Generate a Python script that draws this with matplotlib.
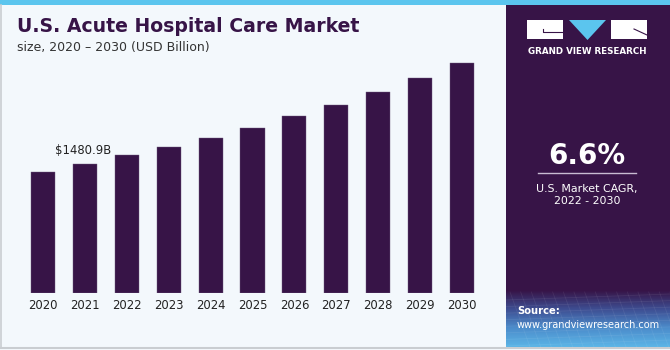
import numpy as np
import matplotlib
matplotlib.use("Agg")
import matplotlib.pyplot as plt
from matplotlib.patches import Rectangle, Polygon

years = ["2020", "2021", "2022", "2023", "2024", "2025",
         "2026", "2027", "2028", "2029", "2030"]
market_size = [1389, 1480.9, 1585, 1683, 1787, 1902, 2033, 2163, 2316, 2471, 2650]
label_year = "2021"
cagr_text = "6.6%"
cagr_caption = "U.S. Market CAGR,\n2022 - 2030"

purple = "#371447"
bg = "#F3F8FC"

W, H = 670, 350
fig = plt.figure(figsize=(W / 100, H / 100), dpi=100)
fig.patch.set_facecolor(bg)

# overlay axes in pixel coordinates for the decoration
deco = fig.add_axes([0, 0, 1, 1])
deco.set_xlim(0, W)
deco.set_ylim(H, 0)
deco.axis("off")
deco.set_zorder(0)

# top strip and frame
deco.add_patch(Rectangle((0, 0), W, 5, color="#5BC5EE", lw=0))
deco.plot([1, 1], [5, H - 2], color="#C9CDD1", lw=1.2)
deco.plot([0, W], [H - 2, H - 2], color="#C9CDD1", lw=1.5)

# right side panel
deco.add_patch(Rectangle((506, 5), W - 506, 287, color=purple, lw=0))
grad = np.linspace(0, 1, 60).reshape(-1, 1)
cmap = matplotlib.colors.LinearSegmentedColormap.from_list(
    "src", [purple, "#3E4E92", "#4C8CCB", "#5BB4E6"])
deco.imshow(grad, extent=(506, W, 347, 290), aspect="auto", cmap=cmap,
            zorder=1)
# faint mesh lines across the source box
for gx in np.linspace(510, W, 16):
    deco.plot([gx, gx + 20], [292, 347], color="white", alpha=0.07, lw=0.6, zorder=2)
for gy in np.linspace(300, 346, 8):
    deco.plot([506, W], [gy, gy - 6], color="white", alpha=0.07, lw=0.6, zorder=2)

# logo
deco.add_patch(Rectangle((527, 20), 36, 19, color="white", lw=0, zorder=3))
deco.plot([543, 543, 563], [29, 32, 32], color=purple, lw=0.8, zorder=4)
deco.add_patch(Polygon([(569, 20), (606, 20), (587.5, 40)], closed=True,
                       color="#5BC5EE", lw=0, zorder=3))
deco.add_patch(Rectangle((611, 20), 36, 19, color="white", lw=0, zorder=3))
deco.plot([634, 647], [29, 35], color=purple, lw=0.8, zorder=4)
deco.text(587, 51, "GRAND VIEW RESEARCH", color="white", fontsize=6.3,
          fontweight="bold", ha="center", va="center", zorder=4)

# CAGR block
deco.text(587, 156, cagr_text, color="white", fontsize=20, fontweight="bold",
          ha="center", va="center", zorder=4)
deco.plot([538, 636], [173, 173], color="#C8BCD2", lw=1, zorder=4)
deco.text(587, 195, cagr_caption, color="white", fontsize=7.9,
          ha="center", va="center", linespacing=1.35, zorder=4)

deco.text(517, 311, "Source:", color="white", fontsize=7.2, fontweight="bold",
          ha="left", va="center", zorder=4)
deco.text(517, 325, "www.grandviewresearch.com", color="white", fontsize=7.0,
          ha="left", va="center", zorder=4)

# titles
deco.text(17, 27, "U.S. Acute Hospital Care Market", color=purple,
          fontsize=13.6, fontweight="bold", ha="left", va="center", zorder=4)
deco.text(17, 48, "size, 2020 \u2013 2030 (USD Billion)", color="#333333",
          fontsize=9.0, ha="left", va="center", zorder=4)

# bar chart
px_per_b = 128.7 / 1480.9
ymax = 2800
ax_h = ymax * px_per_b
bottom_px = 293
ax = fig.add_axes([22 / W, 1 - bottom_px / H, 461 / W, ax_h / H])
ax.set_zorder(2)
ax.patch.set_alpha(0)
x = np.arange(len(years))
ax.bar(x, market_size, width=0.573, color=purple, edgecolor="#6E5A7C",
       linewidth=0.3)
ax.set_xlim(-0.5, len(years) - 0.5)
ax.set_ylim(0, ymax)
ax.set_xticks(x)
ax.set_xticklabels(years, fontsize=8.4, color="#222222")
ax.tick_params(axis="x", length=0, pad=4)
ax.set_yticks([])
for s in ax.spines.values():
    s.set_visible(False)

i = years.index(label_year)
ax.annotate(f"${market_size[i]:.1f}B", (x[i], market_size[i]),
            xytext=(-1, 5), textcoords="offset points", ha="center",
            va="bottom", fontsize=8.4, color="#222222")

fig.savefig("out.png", dpi=100, facecolor=bg)
